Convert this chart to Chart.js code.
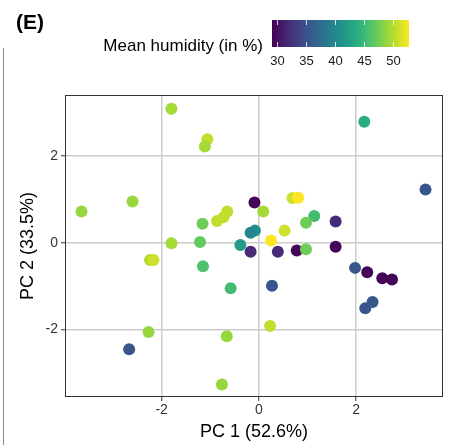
<!DOCTYPE html>
<html>
<head>
<meta charset="utf-8">
<script src="https://cdn.jsdelivr.net/npm/chart.js@4/dist/chart.umd.min.js"></script>
<style>
  html, body { margin: 0; padding: 0; background: #fff; }
  #wrap { position: relative; width: 454px; height: 445px; }
</style>
</head>
<body>
<div id="wrap"><canvas id="pca" width="454" height="445"></canvas></div>
<script>
// PC scores per sample
const pc1 = [-1.80, -1.06, -1.11, -2.60, -3.65, -0.09, 0.09, -0.65, -0.73, -0.86,
  -1.16, -0.08, -0.17, -0.38, -0.17, -1.21, -1.80, -2.24, -2.17, -1.15,
  2.17, 3.43, 0.69, 0.81, 1.14, 0.97, 1.58, 0.53, 0.25, 0.39,
  0.78, 0.97, 1.58, 1.98, 2.23, 2.54, 2.74, 0.27, 2.34, 2.19,
  0.23, -0.58, -2.27, -2.67, -0.66, -0.76];
const pc2 = [3.09, 2.39, 2.22, 0.95, 0.72, 0.93, 0.72, 0.72, 0.59, 0.50,
  0.44, 0.28, 0.23, -0.05, -0.21, 0.02, -0.01, -0.40, -0.40, -0.54,
  2.79, 1.23, 1.03, 1.04, 0.62, 0.46, 0.49, 0.28, 0.05, -0.21,
  -0.18, -0.15, -0.09, -0.58, -0.68, -0.82, -0.85, -0.99, -1.37, -1.51,
  -1.92, -1.05, -2.06, -2.46, -2.16, -3.27];
const humidity = [49.5, 50.5, 49.5, 49, 49, 29.5, 49.5, 50.5, 50.5, 50.5,
  47.5, 41, 40, 42, 32, 47, 49.5, 50, 51, 46,
  44, 35.5, 51, 52.8, 45.5, 47.5, 32, 51, 52.8, 32,
  29.5, 47.5, 29.5, 35.5, 29.5, 29.5, 29.5, 35.5, 35.5, 35.5,
  50.5, 45.5, 49, 35.5, 49, 49];

const xTicks = [-2, 0, 2];
const yTicks = [-2, 0, 2];
const legendTicks = [30, 35, 40, 45, 50];
const humMin = 29.2, humMax = 52.8;

const viridis = ['#440154', '#472d7b', '#3b528b', '#2c728e', '#21918c',
  '#28ae80', '#5ec962', '#addc30', '#fde725'];

const FONT = '"Liberation Sans", Arial, sans-serif';

function hexRgb(h) {
  return [parseInt(h.slice(1, 3), 16), parseInt(h.slice(3, 5), 16), parseInt(h.slice(5, 7), 16)];
}
function viridisColor(v) {
  let t = (v - humMin) / (humMax - humMin);
  t = Math.max(0, Math.min(1, t));
  const pos = t * (viridis.length - 1);
  const i = Math.min(viridis.length - 2, Math.floor(pos));
  const f = pos - i;
  const a = hexRgb(viridis[i]), b = hexRgb(viridis[i + 1]);
  const c = a.map((x, k) => Math.round(x + (b[k] - x) * f));
  return `rgb(${c[0]},${c[1]},${c[2]})`;
}

const points = pc1.map((x, i) => ({ x: x, y: pc2[i] }));
const colors = humidity.map(viridisColor);

// extra drawing: panel box, colourbar legend, labels
const decor = {
  id: 'decor',
  afterDraw(chart) {
    const c = chart.ctx;
    const a = chart.chartArea;
    c.save();
    // full panel border
    c.strokeStyle = '#333333';
    c.lineWidth = 1;
    c.strokeRect(a.left + 0.5, a.top + 0.5, a.right - a.left - 1, a.bottom - a.top - 1);

    // neighbour panel edge on the far left
    c.strokeStyle = '#8a8a8a';
    c.beginPath();
    c.moveTo(3.5, 48); c.lineTo(3.5, 445);
    c.stroke();

    // panel tag
    c.fillStyle = '#000';
    c.font = 'bold 21px ' + FONT;
    c.textAlign = 'left';
    c.textBaseline = 'middle';
    c.fillText('(E)', 16, 23);

    // axis titles
    c.font = '18px ' + FONT;
    c.textAlign = 'center';
    c.fillText('PC 1 (52.6%)', (a.left + a.right) / 2, 432);
    c.save();
    c.translate(28, (a.top + a.bottom) / 2);
    c.rotate(-Math.PI / 2);
    c.fillText('PC 2 (33.5%)', 0, 0);
    c.restore();

    // colourbar
    const bx = 272, by = 20, bw = 137, bh = 27;
    const g = c.createLinearGradient(bx, 0, bx + bw, 0);
    viridis.forEach((col, i) => g.addColorStop(i / (viridis.length - 1), col));
    c.fillStyle = g;
    c.fillRect(bx, by, bw, bh);
    c.strokeStyle = 'rgba(255,255,255,0.8)';
    c.lineWidth = 1;
    c.font = '13px ' + FONT;
    legendTicks.forEach(v => {
      const px = Math.round(bx + (v - humMin) / (humMax - humMin) * bw) + 0.5;
      c.beginPath();
      c.moveTo(px, by); c.lineTo(px, by + 5);
      c.moveTo(px, by + bh - 5); c.lineTo(px, by + bh);
      c.stroke();
      c.fillStyle = '#1a1a1a';
      c.fillText(String(v), px, by + bh + 14);
    });
    c.fillStyle = '#000';
    c.textAlign = 'right';
    c.font = '17px ' + FONT;
    c.fillText('Mean humidity (in %)', 263, 46);
    c.restore();
  }
};

new Chart(document.getElementById('pca'), {
  type: 'scatter',
  data: {
    datasets: [{
      data: points,
      backgroundColor: colors,
      borderWidth: 0,
      pointRadius: 6,
      pointHoverRadius: 6
    }]
  },
  options: {
    responsive: false,
    animation: false,
    events: [],
    layout: { padding: { left: 0, right: 11, top: 95, bottom: 0 } },
    plugins: { legend: { display: false }, tooltip: { enabled: false } },
    scales: {
      x: {
        min: -3.99, max: 3.79,
        afterBuildTicks: s => { s.ticks = xTicks.map(v => ({ value: v })); },
        afterFit: s => { s.height = 48; },
        grid: { color: '#cccccc', lineWidth: 1.5, tickColor: '#333333', tickLength: 4, tickWidth: 1 },
        border: { display: false },
        ticks: { color: '#333333', font: { size: 14, family: FONT }, padding: 1, maxRotation: 0 }
      },
      y: {
        min: -3.56, max: 3.41,
        afterBuildTicks: s => { s.ticks = yTicks.map(v => ({ value: v })); },
        afterFit: s => { s.width = 65; },
        grid: { color: '#cccccc', lineWidth: 1.5, tickColor: '#333333', tickLength: 4, tickWidth: 1 },
        border: { display: false },
        ticks: { color: '#333333', font: { size: 14, family: FONT }, padding: 3 }
      }
    }
  },
  plugins: [decor]
});
</script>
</body>
</html>
